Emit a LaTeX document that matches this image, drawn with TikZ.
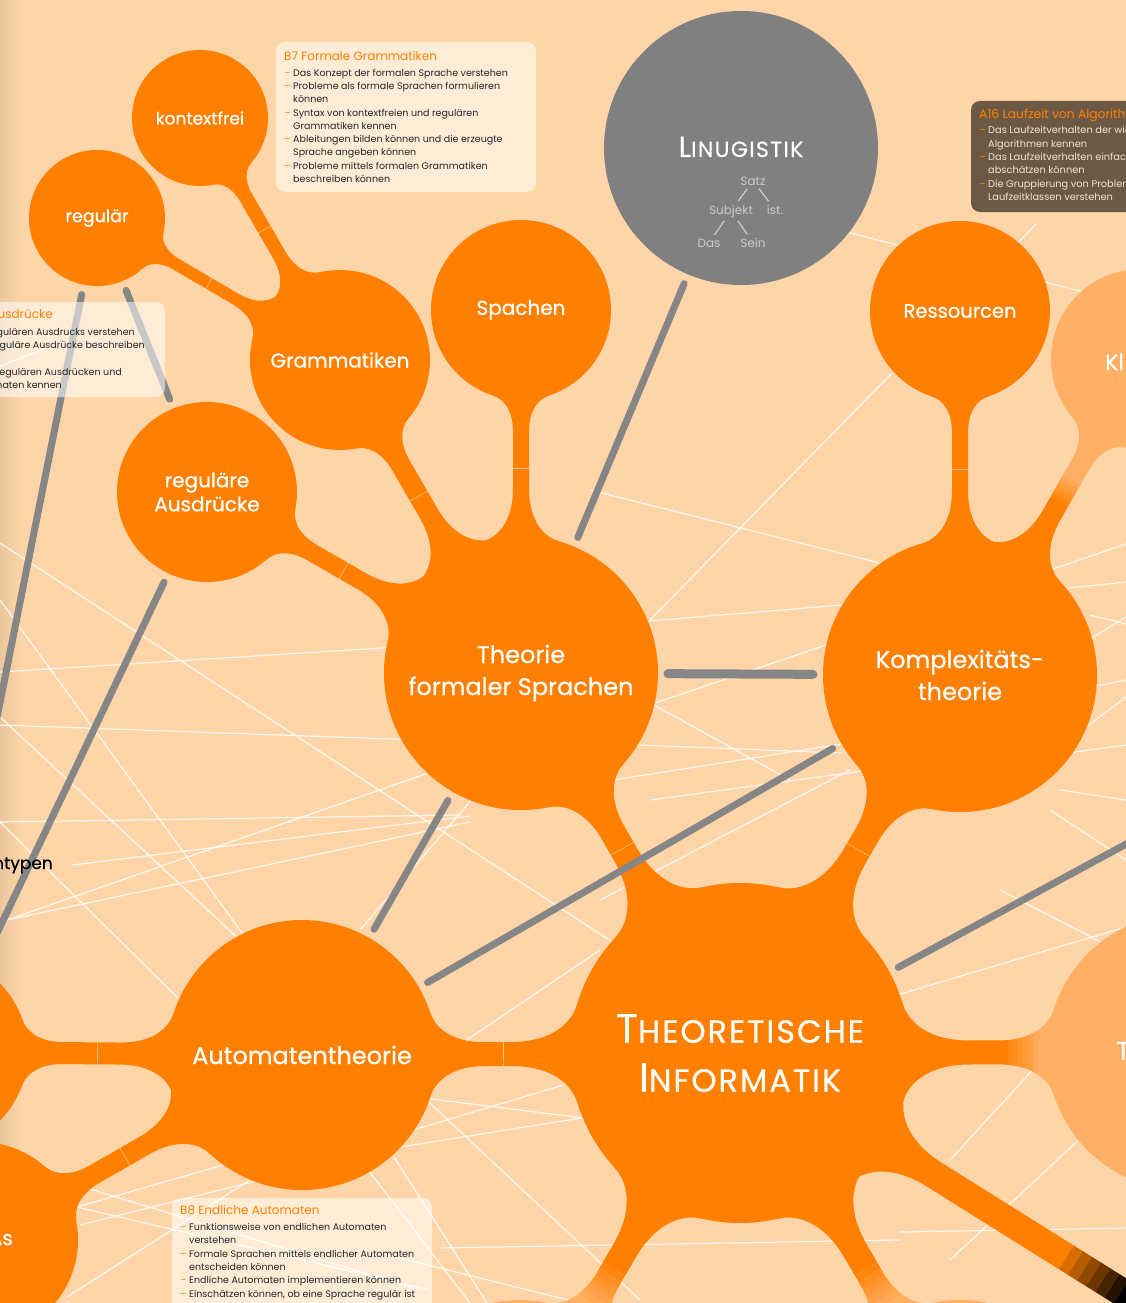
\documentclass[tikz,border=0pt]{standalone}
\usepackage{fontspec}
\setmainfont{Poppins}
\newfontfamily\bubblefont{Poppins}[FakeBold=0.6]
\newfontfamily\spacedfont{Poppins}[FakeBold=0.5, LetterSpace=6]
\usetikzlibrary{calc}

\definecolor{peach}{HTML}{FDD5A8}
\definecolor{mainorange}{HTML}{FF8000}
\definecolor{lightorange}{HTML}{FFB063}
\definecolor{lingray}{HTML}{808080}
\definecolor{linkgray}{HTML}{868686}
\definecolor{treegray}{HTML}{CACACA}
\definecolor{boxbrown}{HTML}{685642}
\definecolor{boxtext}{HTML}{F2E4D2}

\pgfdeclarelayer{background}
\pgfsetlayers{background,main}

% geometry of a stem between two bubbles (A, B, radius A, radius B, half width)
\newcommand{\stemsetup}[5]{%
  \pgfpointdiff{\pgfpointanchor{#1}{center}}{\pgfpointanchor{#2}{center}}%
  \pgfgetlastxy{\stemdx}{\stemdy}%
  \pgfmathsetmacro{\stemlen}{100*sqrt((\stemdx/100)^2+(\stemdy/100)^2)}%
  \pgfmathsetmacro{\stemang}{atan2(\stemdy,\stemdx)}%
  \def\stemw{#5}%
  % side of A
  \pgfmathsetmacro{\stemhA}{#5+0.22*#3}%
  \pgfmathsetmacro{\stembA}{#3*sqrt(1-(\stemhA/#3)^2)}%
  \pgfmathsetmacro{\stemkA}{0.5*(\stemhA-#5)}%
  \pgfmathsetmacro{\stempAx}{\stembA+\stemkA*\stemhA/#3}%
  \pgfmathsetmacro{\stempAy}{\stemhA-\stemkA*\stembA/#3}%
  \pgfmathsetmacro{\stemqA}{1.1*#3}%
  \pgfmathsetmacro{\stemeA}{1.35*#3}%
  % side of B
  \pgfmathsetmacro{\stemhB}{#5+0.22*#4}%
  \pgfmathsetmacro{\stembBp}{#4*sqrt(1-(\stemhB/#4)^2)}%
  \pgfmathsetmacro{\stembB}{\stemlen-\stembBp}%
  \pgfmathsetmacro{\stemkB}{0.5*(\stemhB-#5)}%
  \pgfmathsetmacro{\stempBx}{\stembB-\stemkB*\stemhB/#4}%
  \pgfmathsetmacro{\stempBy}{\stemhB-\stemkB*\stembBp/#4}%
  \pgfmathsetmacro{\stemqB}{\stemlen-1.1*#4}%
  \pgfmathsetmacro{\stemeB}{\stemlen-1.35*#4}%
  \pgfmathsetmacro{\stemmid}{(#3+\stemlen-#4)/2}%
}
\def\stempath{(\stembA,\stemhA) .. controls (\stempAx,\stempAy) and (\stemqA,\stemw) .. (\stemeA,\stemw)
  -- (\stemeB,\stemw) .. controls (\stemqB,\stemw) and (\stempBx,\stempBy) .. (\stembB,\stemhB)
  -- (\stemlen,0) -- (\stembB,-\stemhB) .. controls (\stempBx,-\stempBy) and (\stemqB,-\stemw) .. (\stemeB,-\stemw)
  -- (\stemeA,-\stemw) .. controls (\stemqA,-\stemw) and (\stempAx,-\stempAy) .. (\stembA,-\stemhA)
  -- (0,0) -- cycle}

% plain orange stem
\newcommand{\bubblestem}[5]{%
  \stemsetup{#1}{#2}{#3}{#4}{#5}%
  \begin{scope}[shift={(#1.center)}, rotate=\stemang, x=1pt, y=1pt]
    \fill[mainorange] \stempath;
    \draw[stemtick] (\stemmid,-\stemw) -- (\stemmid,\stemw);
  \end{scope}}

% stem that turns into another colour between s1 and s2
\newcommand{\fadebubblestem}[8]{%
  \stemsetup{#1}{#2}{#3}{#4}{#5}%
  \begin{scope}[shift={(#1.center)}, rotate=\stemang, x=1pt, y=1pt]
    \clip \stempath;
    \fill[mainorange] (-400,-400) rectangle (#6,400);
    \foreach \k in {1,...,6}{%
      \pgfmathsetmacro{\fadea}{#6+(\k-1)*(#7-#6)/6}%
      \pgfmathsetmacro{\fadeb}{#6+\k*(#7-#6)/6+0.5}%
      \pgfmathtruncatemacro{\fadep}{100-\k*100/7}%
      \fill[mainorange!\fadep!#8] (\fadea,-400) rectangle (\fadeb,400);
    }
    \fill[#8] (#7,-400) rectangle ({\stemlen+400},400);
  \end{scope}}

\newcommand{\goalitem}{\makebox[9pt][l]{\textcolor{mainorange}{–}}}
\newcommand{\goalcont}{\hspace*{9pt}}

\begin{document}
\begin{tikzpicture}[x=1pt, y=-1pt,
    bubble/.style={circle, fill=mainorange, text=white, inner sep=0pt, outer sep=0pt, align=center},
    palebubble/.style={bubble, fill=lightorange},
    graybubble/.style={bubble, fill=lingray},
    graylink/.style={draw=linkgray, line width=7pt, line cap=round, shorten <=10pt, shorten >=10pt},
    whiteline/.style={draw=white, line width=1.2pt, opacity=0.85},
    stemtick/.style={draw=white, line width=0.6pt, opacity=0.5},
    goalbox/.style={fill=white, fill opacity=0.55, rounded corners=9pt},
    darkbox/.style={fill=boxbrown, fill opacity=0.97, rounded corners=9pt},
    goaltext/.style={anchor=north west, align=left, inner sep=0pt, text=black!85, font=\fontsize{9.5}{13.3}\selectfont},
    treeword/.style={text=treegray, inner sep=1pt, font=\fontsize{12}{14}\selectfont},
    treeedge/.style={draw=treegray, line width=1.3pt, shorten <=3pt, shorten >=3pt},
    cutlabel/.style={inner sep=0pt, text=black!85, font=\fontsize{9.5}{13.3}\selectfont}
  ]
  \useasboundingbox (0,0) rectangle (1126,1303);

  %%% Central bubble
  \node[bubble, minimum size=340pt, font=\fontsize{32}{49}\spacedfont] (ti) at (740,1053)
    {{\fontsize{41}{49}\selectfont T}HEORETISCHE\\{\fontsize{41}{49}\selectfont I}NFORMATIK};

  %%% Second ring
  \node[bubble, minimum size=274pt, font=\fontsize{24}{32}\bubblefont] (tfs) at (521,673) {Theorie\\formaler Sprachen};
  \node[bubble, minimum size=274pt, font=\fontsize{24}{32}\bubblefont] (kt) at (960,675) {Komplexitäts-\\theorie};
  \node[bubble, minimum size=270pt, font=\fontsize{24}{30}\bubblefont] (auto) at (302,1055) {Automatentheorie};
  \node[palebubble, minimum size=278pt] (tnode) at (1186,1052) {};
  \node[palebubble, minimum size=260pt] (botleft) at (520,1430) {};
  \node[palebubble, minimum size=260pt] (botright) at (960,1430) {};
  \coordinate (darkend) at (1291,1398);

  %%% Leaves
  \node[bubble, minimum size=180pt, font=\fontsize{20}{24}\bubblefont] (spa) at (521,310) {Spachen};
  \node[bubble, minimum size=180pt, font=\fontsize{19.5}{24}\bubblefont] (res) at (960,311) {Ressourcen};
  \node[bubble, minimum size=180pt, font=\fontsize{20}{24}\bubblefont] (gram) at (340,360) {Grammatiken};
  \node[bubble, minimum size=180pt, font=\fontsize{20}{24}\bubblefont] (regaus) at (207,492) {reguläre\\Ausdrücke};
  \node[bubble, minimum size=136pt, font=\fontsize{17}{20}\bubblefont] (kfrei) at (200,118) {kontextfrei};
  \node[bubble, minimum size=136pt, font=\fontsize{17.5}{20}\bubblefont] (reg) at (97,218) {regulär};
  \node[palebubble, minimum size=180pt] (kl) at (1141,359) {};
  \node[bubble, minimum size=196pt] (leftnode) at (-70,1052) {};
  \node[bubble, minimum size=196pt] (asnode) at (-20,1240) {};

  %%% Linguistics bubble with its little tree
  \node[graybubble, minimum size=274pt] (ling) at (741,148) {};
  \node[text=white, inner sep=0pt, anchor=base, font=\fontsize{22}{26}\spacedfont] (lingtitle) at (741,157)
    {{\fontsize{29}{26}\selectfont L}INUGISTIK};
  \node[treeword, anchor=base] (satz) at (753,185) {Satz};
  \node[treeword, anchor=base] (subjekt) at (731,214) {Subjekt};
  \node[treeword, anchor=base] (ist) at (775,214) {ist.};
  \node[treeword, anchor=base] (das) at (709,247) {Das};
  \node[treeword, anchor=base] (sein) at (753,247) {Sein};
  \draw[treeedge] (satz) -- (subjekt);
  \draw[treeedge] (satz) -- (ist);
  \draw[treeedge] (subjekt) -- (das);
  \draw[treeedge] (subjekt) -- (sein);

  %%% Labels of bubbles cut by the border
  \node[text=white, inner sep=0pt, anchor=base west, font=\fontsize{22}{26}\bubblefont] (kllabel) at (1105,370) {Kl};
  \node[text=white, inner sep=0pt, anchor=base west, font=\fontsize{26}{30}\bubblefont] (tlabel) at (1116,1060) {T};
  \node[text=white, inner sep=0pt, anchor=base east, font=\fontsize{20}{24}\bubblefont] (aslabel) at (13,1245) {As};

  \coordinate (eastlink) at (1300,750);
  \coordinate (swlink) at (-130,1200);

  \begin{pgfonlayer}{background}
    \fill[peach] (0,0) rectangle (1126,1303);
    \shade[left color=peach!93!black, right color=peach] (0,0) rectangle (22,1303);

    % decorative links
    \draw[whiteline] (0,543) -- (640,960);
    \draw[whiteline] (0,600) -- (280,985);
    \draw[whiteline] (0,672) -- (430,645);
    \draw[whiteline] (0,725) -- (420,740);
    \draw[whiteline] (0,717) -- (240,940);
    \draw[whiteline] (0,822) -- (460,815);
    \draw[whiteline] (72,865) -- (470,816);
    \draw[whiteline] (0,822) -- (190,1010);
    \draw[whiteline] (7,920) -- (480,755);
    \draw[whiteline] (7,920) -- (470,822);
    \draw[whiteline] (480,790) -- (360,930);
    \draw[whiteline] (600,950) -- (400,1085);
    \draw[whiteline] (400,1095) -- (600,1120);
    \draw[whiteline] (380,1140) -- (580,1080);
    \draw[whiteline] (394,1148) -- (600,1115);
    \draw[whiteline] (400,1075) -- (640,1300);
    \draw[whiteline] (394,1157) -- (487,1303);
    \draw[whiteline] (440,1248) -- (900,1240);
    \draw[whiteline] (380,1253) -- (580,1303);
    \draw[whiteline] (600,900) -- (850,770);
    \draw[whiteline] (650,800) -- (870,770);
    \draw[whiteline] (880,1000) -- (1126,927);
    \draw[whiteline] (1000,890) -- (1126,955);
    \draw[whiteline] (950,1160) -- (1060,1040);
    \draw[whiteline] (950,1260) -- (1100,1120);
    \draw[whiteline] (900,1232) -- (1126,1228);
    \draw[whiteline] (830,228) -- (1100,296);
    \draw[whiteline] (1000,262) -- (1036,224);
    \draw[whiteline] (590,490) -- (880,563);
    \draw[whiteline] (649,621) -- (892,373);
    \draw[whiteline] (649,621) -- (842,605);
    \draw[whiteline] (655,703) -- (826,645);
    \draw[whiteline] (654,705) -- (790,780);
    \draw[whiteline] (637,745) -- (842,753);
    \draw[whiteline] (613,780) -- (848,743);
    \draw[whiteline] (1053,569) -- (1126,544);
    \draw[whiteline] (1068,588) -- (1126,582);
    \draw[whiteline] (1090,615) -- (1126,624);
    \draw[whiteline] (1092,638) -- (1126,617);
    \draw[whiteline] (1097,686) -- (1126,680);
    \draw[whiteline] (1085,728) -- (1126,697);
    \draw[whiteline] (1068,753) -- (1126,745);
    \draw[whiteline] (1060,790) -- (1126,800);
    \draw[whiteline] (1050,810) -- (1126,860);
    \draw[whiteline] (77,1207) -- (380,1120);
    \draw[whiteline] (77,1207) -- (430,1290);
    \draw[whiteline] (80,1225) -- (380,1150);
    \draw[whiteline] (87,1188) -- (420,1290);
    \draw[whiteline] (67,1297) -- (250,1180);
    \draw[whiteline] (330,1120) -- (470,1303);
    \draw[whiteline] (0,366) -- (60,343);

    % stems between bubbles
    \bubblestem{tfs}{spa}{137}{90}{8}
    \bubblestem{tfs}{gram}{137}{90}{10}
    \bubblestem{tfs}{regaus}{137}{90}{9}
    \bubblestem{gram}{kfrei}{90}{68}{7}
    \bubblestem{gram}{reg}{90}{68}{6}
    \bubblestem{kt}{res}{137}{90}{8}
    \fadebubblestem{kt}{kl}{137}{90}{10}{200}{225}{lightorange}
    \bubblestem{ti}{tfs}{170}{137}{13}
    \bubblestem{ti}{kt}{170}{137}{13}
    \bubblestem{ti}{auto}{170}{135}{12}
    \fadebubblestem{ti}{tnode}{170}{139}{12}{268}{298}{lightorange}
    \fadebubblestem{ti}{botleft}{170}{130}{13}{250}{290}{lightorange}
    \fadebubblestem{ti}{botright}{170}{130}{13}{250}{290}{lightorange}
    \fadebubblestem{ti}{darkend}{170}{100}{14}{385}{450}{black}
    \bubblestem{auto}{leftnode}{135}{98}{11}
    \bubblestem{auto}{asnode}{135}{98}{10}
  \end{pgfonlayer}

  %%% Gray cross links
  \draw[graylink] (tfs) -- (ling);
  \draw[graylink, line width=9pt] (tfs) -- (kt);
  \draw[graylink] (auto) -- (tfs);
  \draw[graylink] (auto) -- (kt);
  \draw[graylink] (ti) -- (eastlink);
  \draw[graylink] (regaus) -- (swlink);
  \draw[graylink] (reg) -- (leftnode);
  \draw[graylink] (reg) -- (regaus);

  % label of a topic outside the picture, over the link
  \node[text=black, inner sep=0pt, anchor=base east, font=\fontsize{17}{20}\bubblefont] (typlabel) at (53,869) {ntypen};

  %%% Learning goal boxes
  \path[goalbox] (276,42) rectangle (536,192);
  \node[goaltext] (b7text) at (284,51) {%
    \textcolor{mainorange}{\fontsize{12}{13.3}\selectfont B7 Formale Grammatiken}\\[2.5pt]
    \goalitem Das Konzept der formalen Sprache verstehen\\
    \goalitem Probleme als formale Sprachen formulieren\\
    \goalcont können\\
    \goalitem Syntax von kontextfreien und regulären\\
    \goalcont Grammatiken kennen\\
    \goalitem Ableitungen bilden können und die erzeugte\\
    \goalcont Sprache angeben können\\
    \goalitem Probleme mittels formalen Grammatiken\\
    \goalcont beschreiben können};

  \path[goalbox] (-20,302) rectangle (165,397);
  \node[cutlabel, anchor=base east, text=mainorange, font=\fontsize{12}{14}\selectfont] (regtitle) at (53,318) {Ausdrücke};
  \node[cutlabel, anchor=base east] (regline1) at (135,335) {gulären Ausdrucks verstehen};
  \node[cutlabel, anchor=base east] (regline2) at (145,348) {guläre Ausdrücke beschreiben};
  \node[cutlabel, anchor=base east] (regline3) at (122,375) {egulären Ausdrücken und};
  \node[cutlabel, anchor=base east] (regline4) at (62,388) {maten kennen};

  \path[darkbox] (971,101) rectangle (1140,212);
  \node[goaltext, text=boxtext, font=\fontsize{9.8}{13.3}\selectfont] (a16text) at (979,109) {%
    \textcolor{mainorange}{\fontsize{12.3}{13.3}\selectfont A16 Laufzeit von Algorithmen}\\[2pt]
    \goalitem Das Laufzeitverhalten der wichtigsten\\
    \goalcont Algorithmen kennen\\
    \goalitem Das Laufzeitverhalten einfacher\\
    \goalcont abschätzen können\\
    \goalitem Die Gruppierung von Problemen\\
    \goalcont Laufzeitklassen verstehen};

  \path[goalbox] (172,1198) rectangle (432,1320);
  \node[goaltext] (b8text) at (180,1205) {%
    \textcolor{mainorange}{\fontsize{12}{13.3}\selectfont B8 Endliche Automaten}\\[3pt]
    \goalitem Funktionsweise von endlichen Automaten\\
    \goalcont verstehen\\
    \goalitem Formale Sprachen mittels endlicher Automaten\\
    \goalcont entscheiden können\\
    \goalitem Endliche Automaten implementieren können\\
    \goalitem Einschätzen können, ob eine Sprache regulär ist};
\end{tikzpicture}
\end{document}
